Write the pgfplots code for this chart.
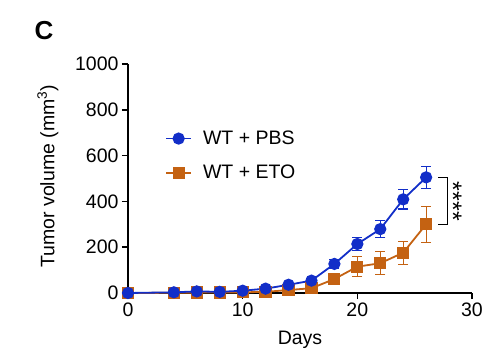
\documentclass[border=0pt]{standalone}
\usepackage{pgfplots}
\pgfplotsset{compat=1.18}
\usepackage{pgfplotstable}
\usepackage{fontspec}
\setmainfont{Liberation Sans}
\definecolor{pbs}{RGB}{18,46,200}
\definecolor{eto}{RGB}{196,98,18}
\pgfplotstableread{
x y e
0 0 0
4 3 2
6 7 3
8 5 3
10 10 4
12 19 5
14 36 6
16 54 8
18 127 20
20 214 29
22 279 37
24 409 42
26 505 47
}\pbs
\pgfplotstableread{
x y e
0 0 0
4 1 1
6 2 1
8 2 1
10 3 2
12 5 3
14 13 4
16 21 6
18 61 8
20 115 44
22 130 50
24 176 50
26 300 78
}\eto
\begin{document}
\begin{tikzpicture}[x=1pt,y=1pt]
\useasboundingbox (0,0) rectangle (490,357);
\node[font=\fontsize{26}{28}\selectfont\bfseries] at (44,326) {C};
\begin{axis}[
  at={(128pt,64pt)}, anchor=south west,
  scale only axis, width=344pt, height=229pt,
  xmin=0, xmax=30, ymin=0, ymax=1000,
  axis lines=left, axis line style={line width=1.5pt, -},
  xtick={0,10,20,30}, ytick={0,200,...,1000},
  tick align=outside, major tick length=6pt,
  tick style={line width=1.5pt, black},
  every tick label/.append style={font=\fontsize{19.5}{22}\selectfont},
  /pgf/number format/assume math mode=true,
  /pgf/number format/1000 sep={},
  xlabel={Days}, ylabel={Tumor volume (mm\textsuperscript{3})},
  label style={font=\fontsize{19.5}{22}\selectfont},
  xlabel style={at={(axis description cs:0.5,-0.206)}, anchor=center},
  ylabel style={at={(axis description cs:-0.233,0.51)}, anchor=center},
  clip=false,
  reverse legend,
  legend style={draw=none, fill=none, at={(axis cs:3.23,717)}, anchor=north west,
    font=\fontsize{19.5}{22}\selectfont, row sep=15pt, inner sep=0pt},
  legend cell align=left,
  legend image code/.code={
    \draw[#1] (0pt,0pt) -- (25pt,0pt);
    \draw[#1, only marks] plot coordinates {(12.5pt,0pt)};
  },
  every axis legend/.append style={column sep=9pt},
]
\addplot[eto, line width=1.8pt, mark=square*, mark size=5.2pt, mark options={solid},
  error bars/.cd, y dir=both, y explicit,
  error bar style={line width=1.2pt}, error mark options={line width=1.2pt, mark size=5pt, rotate=90}]
  table[x=x, y=y, y error=e] {\eto};
\addlegendentry{WT + ETO}
\addplot[pbs, line width=1.8pt, mark=*, mark size=5.2pt, mark options={solid},
  error bars/.cd, y dir=both, y explicit,
  error bar style={line width=1.2pt}, error mark options={line width=1.2pt, mark size=5pt, rotate=90}]
  table[x=x, y=y, y error=e] {\pbs};
\addlegendentry{WT + PBS}
\addplot[black, line width=1pt, forget plot] coordinates {(27.05,505) (27.9,505) (27.9,300) (27.05,300)};
\node[rotate=-90, font=\fontsize{25}{25}\selectfont] at (axis cs:28.35,400) {****};
\end{axis}
\end{tikzpicture}
\end{document}
